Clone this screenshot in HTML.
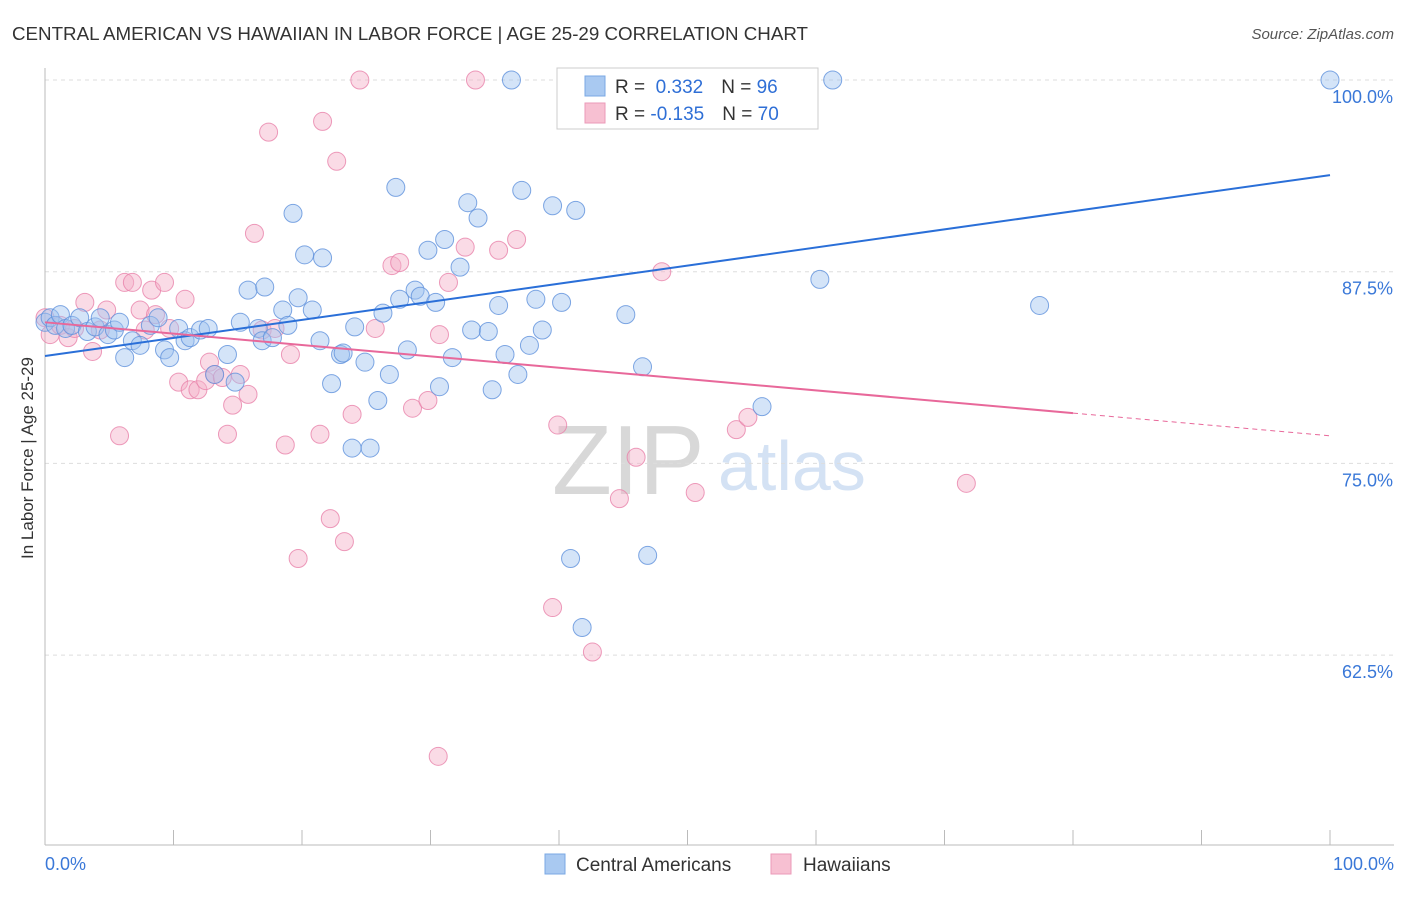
<!DOCTYPE html>
<html><head><meta charset="utf-8"><style>
body{margin:0;background:#fff;font-family:"Liberation Sans",sans-serif;}
svg text{font-family:"Liberation Sans",sans-serif;}
</style></head><body>
<svg id="c" width="1406" height="892">
<text x="12" y="40" font-size="18" fill="#333" textLength="796" lengthAdjust="spacingAndGlyphs">CENTRAL AMERICAN VS HAWAIIAN IN LABOR FORCE | AGE 25-29 CORRELATION CHART</text>
<text x="1394" y="39" font-size="15" fill="#555" font-style="italic" text-anchor="end">Source: ZipAtlas.com</text>
<text transform="translate(33,458) rotate(-90)" font-size="17" fill="#333" text-anchor="middle">In Labor Force | Age 25-29</text>
<text x="552" y="494" font-size="98" fill="#d8d8d8" font-family="Liberation Serif">ZIP</text>
<text x="718" y="490" font-size="70" fill="#d4e2f4">atlas</text>
<g id="grid"></g><g id="axes"></g><g id="pts"></g><g id="trend"></g>
<g>
<rect x="557" y="68" width="261" height="61" fill="#fff" stroke="#ccc"/>
<rect x="585" y="76" width="20" height="20" fill="#a9c9f1" stroke="#7aa8e4"/>
<rect x="585" y="103" width="20" height="20" fill="#f7c0d2" stroke="#eb9ab8"/>
<text x="615" y="93" font-size="19" fill="#333">R = <tspan fill="#2f6fd6">&#160;0.332</tspan><tspan dx="18">N = </tspan><tspan fill="#2f6fd6">96</tspan></text>
<text x="615" y="120" font-size="19" fill="#333">R = <tspan fill="#2f6fd6">-0.135</tspan><tspan dx="18">N = </tspan><tspan fill="#2f6fd6">70</tspan></text>
</g>
<g>
<rect x="545" y="854" width="20" height="20" fill="#a9c9f1" stroke="#7aa8e4"/>
<text x="576" y="871" font-size="19" fill="#333">Central Americans</text>
<text x="803" y="871" font-size="19" fill="#333">Hawaiians</text>
<rect x="771" y="854" width="20" height="20" fill="#f7c0d2" stroke="#eb9ab8"/>
</g>
</svg>
<script>
const yTicks=[100,87.5,75,62.5];
const yTickLabels=["100.0%","87.5%","75.0%","62.5%"];
const xTickLabels=["0.0%","100.0%"];
const blueX=[0,0.4,0.8,1.2,1.6,2.1,2.7,3.3,3.9,4.3,4.9,5.4,5.8,6.2,6.8,7.4,8.2,8.8,9.3,9.7,10.4,10.9,11.3,12.1,12.7,13.2,14.2,14.8,15.2,15.8,16.6,16.9,17.1,17.7,18.5,18.9,19.3,19.7,20.2,20.8,21.4,21.6,22.3,23.0,23.2,24.1,24.9,25.3,25.9,26.3,26.8,27.3,27.6,28.2,28.8,29.2,29.8,30.4,30.7,31.1,31.7,32.3,32.9,33.2,33.7,34.5,34.8,35.3,35.8,36.3,36.8,37.1,37.7,38.2,38.7,39.5,40.2,40.9,41.3,41.8,43.2,45.2,46.5,46.9,55.8,60.3,61.3,77.4,100,23.9,48.8];
const blueY=[84.2,84.5,84.0,84.7,83.8,84.0,84.5,83.6,83.9,84.5,83.4,83.7,84.2,81.9,83.0,82.7,84.0,84.5,82.4,81.9,83.8,83.0,83.2,83.7,83.8,80.8,82.1,80.3,84.2,86.3,83.8,83.0,86.5,83.2,85.0,84.0,91.3,85.8,88.6,85.0,83.0,88.4,80.2,82.1,82.2,83.9,81.6,76.0,79.1,84.8,80.8,93.0,85.7,82.4,86.3,85.9,88.9,85.5,80.0,89.6,81.9,87.8,92.0,83.7,91.0,83.6,79.8,85.3,82.1,100,80.8,92.8,82.7,85.7,83.7,91.8,85.5,68.8,91.5,64.3,100,84.7,81.3,69.0,78.7,87.0,100,85.3,100,76.0,100];
const pinkX=[0,0.4,1.2,1.8,2.3,3.1,3.7,4.3,4.8,5.8,6.2,6.8,7.4,7.8,8.3,8.6,9.3,9.7,10.4,10.9,11.3,11.9,12.5,12.8,13.2,13.8,14.2,14.6,15.2,15.8,16.3,16.9,17.4,17.9,18.7,19.1,19.7,21.6,21.4,22.2,22.7,23.3,23.9,24.5,25.7,27.0,27.6,28.6,29.8,30.6,30.7,31.4,32.7,33.5,35.3,36.7,39.5,39.9,42.6,44.7,46.0,48.0,50.6,53.8,54.7,71.7];
const pinkY=[84.5,83.4,84.0,83.2,83.8,85.5,82.3,83.7,85.0,76.8,86.8,86.8,85.0,83.7,86.3,84.7,86.8,83.8,80.3,85.7,79.8,79.8,80.4,81.6,80.8,80.6,76.9,78.8,80.8,79.5,90.0,83.7,96.6,83.8,76.2,82.1,68.8,97.3,76.9,71.4,94.7,69.9,78.2,100,83.8,87.9,88.1,78.6,79.1,55.9,83.4,86.8,89.1,100,88.9,89.6,65.6,77.5,62.7,72.7,75.4,87.5,73.1,77.2,78.0,73.7];
const blueTrend=[82.0,93.8];
const pinkTrend=[84.2,76.8];
const pinkSolidEnd=80;
const NS="http://www.w3.org/2000/svg";
const X=v=>45+v*12.85, Y=v=>80+(100-v)*15.336;
function mk(t,a,p){const e=document.createElementNS(NS,t);for(const k in a)e.setAttribute(k,a[k]);p.appendChild(e);return e;}
const grid=document.getElementById('grid'),axes=document.getElementById('axes'),pts=document.getElementById('pts'),tr=document.getElementById('trend');
yTicks.forEach((t,i)=>{
 const l=mk('line',{x1:45,x2:1394,y1:Y(t),y2:Y(t),stroke:'#ddd','stroke-dasharray':'4,4'},grid);
 
 
 const tx=mk('text',{x:1393,y:Y(t)+23,'font-size':18,fill:'#3a78d8','text-anchor':'end'},grid);
 tx.textContent=yTickLabels[i];
 
 
});
const ax=mk('line',{x1:45,x2:1394,y1:845,y2:845,stroke:'#bbb'},axes);


const ay=mk('line',{x1:45,x2:45,y1:68,y2:845,stroke:'#bbb'},axes);


for(let i=0;i<=10;i++){const t=mk('line',{x1:X(i*10),x2:X(i*10),y1:830,y2:845,stroke:'#bbb'},axes);
 
 }
[[0,'start',45],[1,'end',1394]].forEach(([i,a,x])=>{const t=mk('text',{x:x,y:870,'font-size':18,fill:'#3a78d8','text-anchor':a},axes);t.textContent=xTickLabels[i];
 
 });
pinkX.forEach((x,i)=>{const c=mk('circle',{cx:X(x),cy:Y(pinkY[i]),r:9,fill:'rgba(245,175,200,0.45)',stroke:'rgba(232,130,170,0.8)','stroke-width':1},pts);
 
 });
blueX.forEach((x,i)=>{const c=mk('circle',{cx:X(x),cy:Y(blueY[i]),r:9,fill:'rgba(160,195,240,0.45)',stroke:'rgba(95,145,220,0.8)','stroke-width':1},pts);
 
 });
const bl=mk('line',{x1:X(0),y1:Y(blueTrend[0]),x2:X(100),y2:Y(blueTrend[1]),stroke:'#2a6fd8','stroke-width':2},tr);


const pm=pinkTrend[0]+(pinkTrend[1]-pinkTrend[0])*pinkSolidEnd/100;
const pl=mk('line',{x1:X(0),y1:Y(pinkTrend[0]),x2:X(pinkSolidEnd),y2:Y(pm),stroke:'#e8689a','stroke-width':2},tr);


const pd=mk('line',{x1:X(pinkSolidEnd),y1:Y(pm),x2:X(100),y2:Y(pinkTrend[1]),stroke:'#e8689a','stroke-width':1,'stroke-dasharray':'5,4'},tr);


</script>
</body></html>
